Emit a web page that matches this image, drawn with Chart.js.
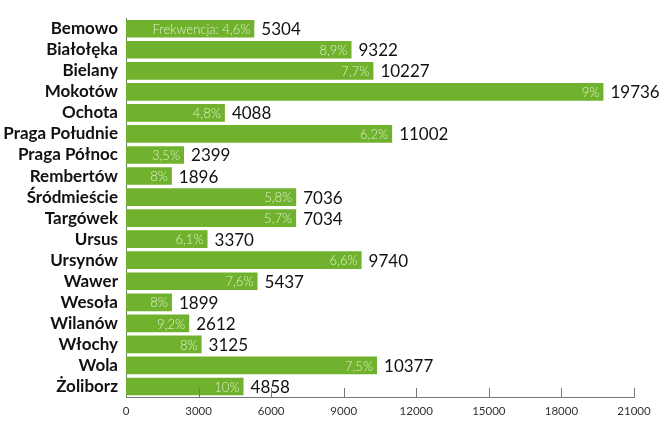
<!DOCTYPE html>
<html>
<head>
<meta charset="utf-8">
<title>Frekwencja - dzielnice</title>
<script src="https://cdn.jsdelivr.net/npm/chart.js"></script>
<style>
html, body { margin: 0; padding: 0; background: #fff; }
.wrap { position: relative; width: 663px; height: 427px; }
</style>
</head>
<body>
<div class="wrap"><canvas id="c"></canvas></div>
<script>
const districts = ['Bemowo', 'Białołęka', 'Bielany', 'Mokotów', 'Ochota', 'Praga Południe', 'Praga Północ',
  'Rembertów', 'Śródmieście', 'Targówek', 'Ursus', 'Ursynów', 'Wawer', 'Wesoła', 'Wilanów', 'Włochy', 'Wola', 'Żoliborz'];
const voters = [5304, 9322, 10227, 19736, 4088, 11002, 2399, 1896, 7036, 7034, 3370, 9740, 5437, 1899, 2612, 3125, 10377, 4858];
const turnout = [4.6, 8.9, 7.7, 9, 4.8, 6.2, 3.5, 8, 5.8, 5.7, 6.1, 6.6, 7.6, 8, 9.2, 8, 7.5, 10];
const xTicks = [0, 3000, 6000, 9000, 12000, 15000, 18000, 21000];

const green = '#70b22e';

// turnout inside bar + value after bar
const labelPlugin = {
  id: 'labels',
  afterDatasetsDraw(chart) {
    const ctx = chart.ctx;
    const meta = chart.getDatasetMeta(0);
    ctx.save();
    ctx.textBaseline = 'middle';
    meta.data.forEach((bar, i) => {
      let t = String(turnout[i]).replace('.', ',') + '%';
      if (i === 0) t = 'Frekwencja: ' + t;
      ctx.font = '300 13px Lato';
      ctx.fillStyle = '#dcefc6';
      ctx.textAlign = 'right';
      ctx.fillText(t, bar.x - 4, bar.y + 1);
      ctx.font = '400 17px Lato';
      ctx.fillStyle = '#111';
      ctx.textAlign = 'left';
      ctx.fillText(String(voters[i]), bar.x + 7, bar.y + 1);
    });
    ctx.restore();
  }
};

// small tick marks pointing up from the x axis
const tickPlugin = {
  id: 'upTicks',
  afterDraw(chart) {
    const ctx = chart.ctx;
    const x = chart.scales.x;
    const b = chart.chartArea.bottom;
    ctx.save();
    ctx.strokeStyle = '#777';
    ctx.lineWidth = 1;
    xTicks.forEach(v => {
      if (v === 0) return;
      const px = Math.round(x.getPixelForValue(v)) + 0.5;
      ctx.beginPath();
      ctx.moveTo(px, b);
      ctx.lineTo(px, b - 9);
      ctx.stroke();
    });
    ctx.restore();
  }
};

new Chart(document.getElementById('c'), {
  type: 'bar',
  data: {
    labels: districts,
    datasets: [{
      data: voters,
      backgroundColor: green,
      categoryPercentage: 1,
      barPercentage: 0.84
    }]
  },
  options: {
    indexAxis: 'y',
    responsive: true,
    maintainAspectRatio: false,
    animation: false,
    layout: { padding: { top: 12, right: 29, left: 0, bottom: 0 } },
    plugins: { legend: { display: false }, tooltip: { enabled: false } },
    scales: {
      x: {
        min: 0,
        max: 21000,
        afterBuildTicks(s) { s.ticks = xTicks.map(v => ({ value: v })); },
        afterFit(s) { s.height = 30; },
        grid: { display: false, drawTicks: false },
        border: { display: true, color: '#777' },
        ticks: {
          padding: 7,
          maxRotation: 0,
          color: '#333',
          font: { family: 'Lato', size: 11.5 },
          callback: v => String(v)
        }
      },
      y: {
        afterFit(s) { s.width = 126; },
        grid: { display: false, drawTicks: false },
        border: { display: true, color: '#777' },
        ticks: {
          padding: 8,
          autoSkip: false,
          color: '#111',
          font: { family: 'Lato', size: 17, weight: 'bold' }
        }
      }
    }
  },
  plugins: [labelPlugin, tickPlugin]
});
</script>
</body>
</html>
